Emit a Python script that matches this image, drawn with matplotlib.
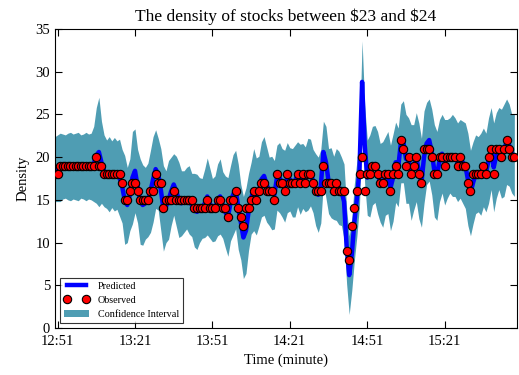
import numpy as np
import matplotlib
matplotlib.use('Agg')
import matplotlib.pyplot as plt

# minutes after 12:51
minutes = list(range(-1, 178))

observed = [
    18, 18, 19, 19, 19, 19, 19, 19, 19, 19, 19, 19, 19, 19, 19, 19,    # -1..14
    20, 19, 19, 18, 18, 18, 18, 18, 18, 18,                            # 15..24
    17, 15, 15, 16, 17, 17, 16, 15, 15, 15, 15, 16, 16, 18, 17, 17, 14,  # 25..41
    15, 15, 15, 16, 15, 15, 15, 15, 15, 15, 15, 14, 14, 14, 14, 14,    # 42..57
    15, 14, 14, 14, 15, 15, 14, 14,                                    # 58..65
    13, 15, 15, 16, 14, 13, 12, 14, 14, 15, 16, 15, 16, 17, 17, 16,    # 66..81
    16, 16, 15, 18, 17, 17,                                            # 82..87
    16, 18, 17, 17, 17, 18, 17, 18, 17, 18, 18, 17, 16, 16, 16, 19,    # 88..103
    17, 17, 17, 16, 17, 16, 16, 16,                                    # 104..111
    9, 8, 12, 14, 16, 18, 20, 16, 18, 18, 19, 19, 18, 17, 17, 18,      # 112..127
    18, 16, 18, 19, 18,                                                # 128..132
    22, 21, 19, 20, 18, 19, 20, 18, 17, 21, 21, 21, 20, 18, 18, 20,    # 133..148
    20, 19, 20, 20, 20, 20, 19,                                        # 149..155
    20, 19, 19, 17, 16, 18, 18, 18, 18, 19, 18, 20, 21, 18, 21, 21,    # 156..171
    20, 21, 22, 21, 20, 20,                                            # 172..177
]

predicted = [
    18.6, 18.7, 18.8, 18.9, 18.9, 18.9, 18.9, 18.9, 18.9, 18.9, 18.9, 18.9, 18.9, 18.9, 18.9, 19.2,
    20.2, 20.6, 19.4, 18.4, 18.0, 18.0, 18.0, 18.0, 17.9, 17.6,
    16.6, 15.0, 14.4, 15.6, 17.6, 18.4, 16.6, 14.8, 14.4, 14.6, 15.0, 16.0, 17.4, 18.6, 18.0, 16.2, 14.0,
    14.2, 15.0, 16.0, 16.8, 16.0, 15.0, 14.6, 14.8, 15.2, 15.0, 14.4, 13.8, 13.6, 13.8, 14.0, 14.6,
    15.4, 14.6, 13.8, 14.0, 15.0, 15.4, 14.4, 13.6,
    13.0, 14.6, 15.6, 16.2, 14.2, 12.4, 10.6, 11.4, 13.6, 15.2, 16.2, 15.4, 16.0, 17.4, 17.8, 16.8,
    16.0, 15.8, 15.6, 17.6, 17.6, 17.0,
    16.6, 17.6, 17.4, 17.0, 17.2, 18.0, 17.4, 17.8, 17.4, 18.0, 18.2, 17.2, 16.2, 15.6, 16.6, 20.6,
    19.4, 17.2, 17.0, 16.4, 16.8, 16.4, 16.0, 14.8,
    9.6, 6.2, 8.6, 12.4, 15.2, 18.6, 28.8, 21.5, 17.6, 17.8, 19.0, 19.2, 18.2, 17.0, 16.8, 17.8,
    18.2, 16.4, 17.6, 19.4, 18.8,
    21.6, 21.8, 19.8, 19.6, 18.2, 18.8, 20.0, 18.4, 17.0, 20.0, 21.6, 22.0, 20.6, 18.4, 17.8, 19.6,
    20.4, 19.4, 19.8, 20.2, 20.2, 20.0, 19.4,
    19.8, 19.4, 19.0, 17.4, 15.8, 17.0, 18.0, 18.0, 18.0, 18.8, 18.2, 19.6, 21.0, 18.8, 20.2, 21.0,
    20.4, 20.8, 21.8, 21.4, 20.4, 20.2,
]

# half width of the confidence band
half_width = [
    3.8, 3.9, 4.0, 3.8, 3.7, 3.9, 4.0, 3.8, 3.9, 4.0, 3.7, 3.8, 4.0, 3.8, 3.9, 4.4,
    5.6, 6.4, 4.8, 4.2, 4.0, 4.4, 3.9, 4.3, 4.0, 4.5,
    4.3, 5.2, 4.4, 4.2, 5.4, 4.9, 4.3, 5.0, 4.7, 4.2, 4.3, 4.8, 5.0, 4.6, 4.2, 4.8, 5.0,
    4.2, 4.6, 4.0, 3.6, 4.1, 4.4, 3.8, 3.6, 3.6, 4.0, 3.7, 4.3, 4.4, 3.8, 3.5, 4.0,
    4.5, 4.1, 3.7, 3.8, 4.2, 4.4, 3.9, 4.2,
    4.6, 4.4, 4.7, 4.6, 5.0, 4.4, 4.8, 5.0, 4.5, 4.2, 4.8, 4.5, 4.1, 4.4, 4.6, 4.4,
    4.0, 4.3, 4.0, 3.8, 4.1, 4.0,
    4.2, 4.1, 3.7, 4.0, 4.2, 3.8, 4.1, 3.8, 3.8, 4.2, 3.9, 3.7, 4.2, 4.4, 4.3, 3.6,
    4.2, 3.8, 4.1, 3.7, 4.2, 4.3, 4.0, 4.4,
    4.4, 4.6, 4.2, 4.5, 4.4, 4.2, 4.8, 4.6, 4.4, 4.8, 4.6, 4.5, 4.8, 4.6, 5.0, 4.6,
    4.8, 5.0, 5.1, 4.7, 4.6,
    4.6, 4.8, 5.2, 5.0, 5.6, 5.0, 5.2, 5.6, 5.2, 5.4, 4.8, 4.8, 5.0, 5.4, 5.2, 4.8,
    4.6, 5.0, 4.6, 4.4, 4.8, 4.6, 4.6,
    4.6, 4.8, 5.0, 5.4, 5.0, 4.8, 4.6, 4.4, 4.8, 4.6, 4.6, 5.0, 4.8, 5.2, 5.0, 4.8,
    5.2, 5.4, 5.0, 4.8, 4.6, 4.8,
]

tick_pos = [0, 30, 60, 90, 120, 150]
tick_labels = ['12:51', '13:21', '13:51', '14:21', '14:51', '15:21']

x = np.array(minutes)
pred = np.array(predicted)
hw = np.array(half_width)

plt.rcParams['font.family'] = ['Liberation Serif', 'DejaVu Serif']

fig = plt.figure(figsize=(5.19, 3.75), dpi=100)
ax = fig.add_axes([0.106, 0.125, 0.89, 0.798])

ax.fill_between(x, pred - hw, pred + hw, color='#4f9db3', lw=0,
                label='Confidence Interval', zorder=1)
ax.plot(x, pred, color='#0000ff', lw=3.2, label='Predicted', zorder=2)
ax.plot(x, observed, 'o', color='red', mec='black', mew=0.8, ms=6,
        label='Observed', zorder=3)

ax.set_xlim(-1, 178)
ax.set_ylim(0, 35)
ax.set_xticks(tick_pos)
ax.set_xticklabels(tick_labels)
ax.set_yticks(range(0, 36, 5))
ax.tick_params(direction='in', top=True, right=True, length=5, labelsize=10.5)
ax.tick_params(axis='x', pad=5)

ax.set_title('The density of stocks between \\$23 and \\$24', fontsize=12.5)
ax.set_xlabel('Time (minute)', fontsize=10.5)
ax.set_ylabel('Density', fontsize=10.5)

handles, labels = ax.get_legend_handles_labels()
order = [1, 2, 0]
leg = ax.legend([handles[i] for i in order], [labels[i] for i in order],
                loc='lower left', fontsize=7.3, numpoints=2, fancybox=False,
                borderaxespad=0.5, handlelength=2.5)
leg.get_frame().set_edgecolor('black')
leg.get_frame().set_linewidth(0.8)

plt.savefig('out.png', dpi=100)
